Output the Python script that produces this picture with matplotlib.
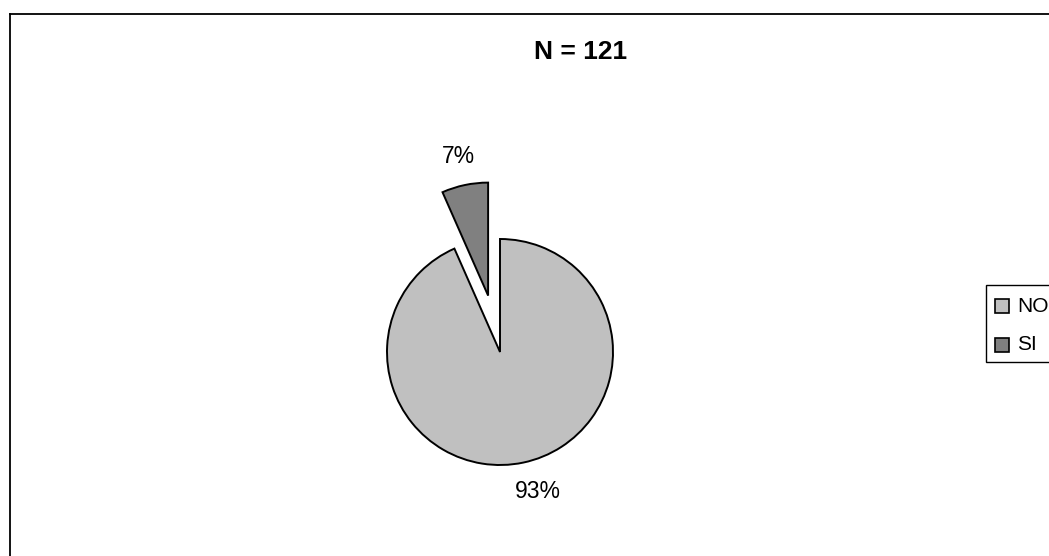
import matplotlib
matplotlib.use("Agg")
import matplotlib.pyplot as plt
from matplotlib.patches import Rectangle

plt.rcParams['font.family'] = ['Liberation Sans', 'DejaVu Sans']

categories = ["NO", "SI"]
counts = [113, 8]
colors = ["#C0C0C0", "#808080"]
explode_frac = [0.0, 0.51]
title = "N = 121"

W, H = 1049, 556
R = 113
fig = plt.figure(figsize=(W / 100, H / 100), dpi=100)
ax = fig.add_axes([0, 0, 1, 1])

# chart area frame (left and top edges visible)
ax.plot([9.5, 9.5], [0, H - 13.5], color='black', lw=1.3)
ax.plot([9.5, W], [H - 13.5, H - 13.5], color='black', lw=1.3)

wedges, texts, autotexts = ax.pie(
    counts, colors=colors, explode=[e * R for e in explode_frac],
    startangle=90, counterclock=False,
    center=(500, H - 352), radius=R, frame=True,
    autopct=lambda p: f"{p:.0f}%", pctdistance=1.26,
    wedgeprops=dict(edgecolor='black', linewidth=1.4),
    textprops=dict(fontsize=16.5, color='black'))
x0, y0 = autotexts[0].get_position()
autotexts[0].set_position((x0 + 9, y0))

ax.set_xlim(0, W)
ax.set_ylim(0, H)
ax.set_aspect('equal')
ax.axis('off')

ax.text(581, H - 52, title, ha='center', va='center', fontsize=19,
        fontweight='bold')

# legend box, running off the right edge
ax.add_patch(Rectangle((985.5, H - 362), 100, 77, facecolor='white',
                       edgecolor='black', lw=1.0, clip_on=True))
for i, (lab, c) in enumerate(zip(categories, colors)):
    yc = H - (306 + 39 * i)
    ax.add_patch(Rectangle((995, yc - 7), 14, 14, facecolor=c,
                           edgecolor='black', lw=1.2))
    ax.text(1017, yc, lab, ha='left', va='center', fontsize=15)

fig.savefig("out.png", dpi=100)
